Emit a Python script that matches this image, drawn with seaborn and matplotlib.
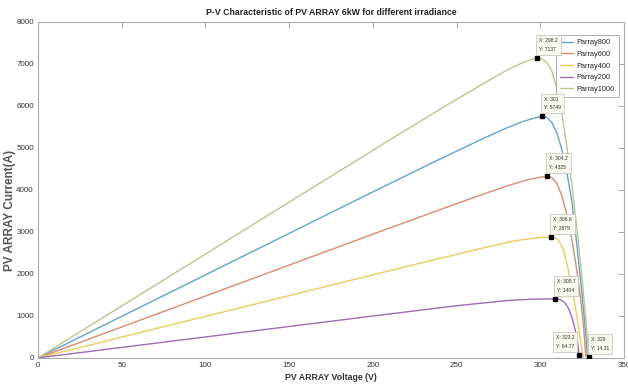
import matplotlib
matplotlib.use("Agg")
import matplotlib.pyplot as plt
import seaborn as sns
import pandas as pd

# PV array power (W) versus voltage (V) for each irradiance level
v_800 = [0, 50, 100, 150, 200, 240, 265, 280, 290, 296, 301, 304, 307, 310, 313, 316, 319, 322, 325, 327, 328.2]
p_800 = [0, 988, 1975, 2963, 3950, 4730, 5205, 5475, 5630, 5702, 5749, 5720, 5600, 5350, 4950, 4400, 3700, 2650, 1500, 650, 30]

v_600 = [0, 50, 100, 150, 200, 240, 265, 280, 292, 299, 304.2, 307, 310, 313, 316, 319, 322, 324, 326, 327.2]
p_600 = [0, 736, 1472, 2208, 2944, 3526, 3884, 4090, 4234, 4294, 4325, 4290, 4150, 3850, 3400, 2800, 2050, 1450, 700, 30]

v_400 = [0, 50, 100, 150, 200, 240, 265, 285, 298, 306.6, 309, 311, 313, 315, 317, 319, 321, 323, 324.5, 325.7]
p_400 = [0, 494, 988, 1482, 1976, 2368, 2608, 2788, 2860, 2879, 2860, 2800, 2650, 2400, 2050, 1650, 1200, 700, 300, 20]

v_200 = [0, 50, 100, 150, 200, 250, 280, 295, 303, 308.7, 311, 313, 315, 317, 319, 321, 322.5, 323.2]
p_200 = [0, 249, 498, 747, 996, 1241, 1364, 1397, 1402, 1404, 1395, 1365, 1300, 1170, 960, 650, 330, 64.77]

v_1000 = [0, 50, 100, 150, 200, 240, 265, 280, 290, 295, 298.2, 301, 304, 307, 310, 313, 316, 319, 322, 325, 327, 329]
p_1000 = [0, 1235, 2470, 3705, 4940, 5916, 6505, 6850, 7035, 7105, 7137, 7115, 7030, 6820, 6400, 5800, 5000, 4100, 3050, 1900, 1050, 14.31]

series_names = ["Parray800", "Parray600", "Parray400", "Parray200", "Parray1000"]
series_v = [v_800, v_600, v_400, v_200, v_1000]
series_p = [p_800, p_600, p_400, p_200, p_1000]
series_colors = ["#5fa3cf", "#dc8a70", "#eccb5c", "#9c6cb5", "#bfc390"]

# Data tips: (voltage, power, label placement)
tip_v = [298.2, 301, 304.2, 306.6, 308.7, 323.2, 329]
tip_p = [7137, 5749, 4325, 2879, 1404, 64.77, 14.31]
tip_side = ["right", "right", "right", "right", "right", "left", "right"]

sns.set_style("white")
plt.rcParams["font.family"] = ["Liberation Sans Narrow", "Liberation Sans", "DejaVu Sans"]

fig = plt.figure(figsize=(6.28, 3.89), dpi=100)
ax = fig.add_axes([0.0605, 0.080, 0.933, 0.864])

for name, vv, pp, col in zip(series_names, series_v, series_p, series_colors):
    df = pd.DataFrame({"V": vv, "P": pp})
    sns.lineplot(data=df, x="V", y="P", sort=False, color=col, linewidth=1.0,
                 label=name, ax=ax)

ax.plot(tip_v, tip_p, linestyle="none", marker="s", markersize=3.2, color="black", zorder=5)


def fmt(x):
    return f"{x:.2f}".rstrip("0").rstrip(".")


for tv, tp, side in zip(tip_v, tip_p, tip_side):
    txt = f"X: {fmt(tv)}\nY: {fmt(tp)}"
    if side == "right":
        off, ha = (1.5, 4.5), "left"
    else:
        off, ha = (-3.5, 4.5), "right"
    ax.annotate(txt, xy=(tv, tp), xytext=off, textcoords="offset points",
                ha=ha, va="bottom", fontsize=3.6, color="#333333", linespacing=1.9,
                bbox=dict(boxstyle="square,pad=0.6", facecolor="#f8f8ee",
                          edgecolor="#c8c8c0", linewidth=0.6), zorder=6)

ax.set_xlim(0, 350)
ax.set_ylim(0, 8000)
ax.set_xticks(range(0, 351, 50))
ax.set_yticks(range(0, 8001, 1000))
ax.tick_params(direction="in", length=4, width=0.6, color="#999999",
               labelsize=5.8, labelcolor="#333333", top=True, right=True,
               pad=3)
for sp in ax.spines.values():
    sp.set_color("#aaaaaa")
    sp.set_linewidth(0.8)

ax.set_title("P-V Characteristic of PV ARRAY 6kW for different irradiance",
             fontsize=6.3, fontweight="bold", color="#222222", pad=5)
ax.set_xlabel("PV ARRAY Voltage (V)", fontsize=6.3, fontweight="bold",
              color="#333333", labelpad=3)
ax.set_ylabel("PV ARRAY Current(A)", fontsize=8.5, fontweight="bold",
              color="#555555", va="center")
ax.yaxis.set_label_coords(-0.047, 0.44)

leg = ax.legend(loc="upper right", bbox_to_anchor=(0.998, 0.972), fontsize=5.3,
                frameon=True, fancybox=False, handlelength=1.8,
                borderpad=0.6, labelspacing=0.6, handletextpad=0.4)
leg.get_frame().set_edgecolor("#999999")
leg.get_frame().set_linewidth(0.7)
for t in leg.get_texts():
    t.set_color("#222222")

fig.savefig("out.png", dpi=100)
